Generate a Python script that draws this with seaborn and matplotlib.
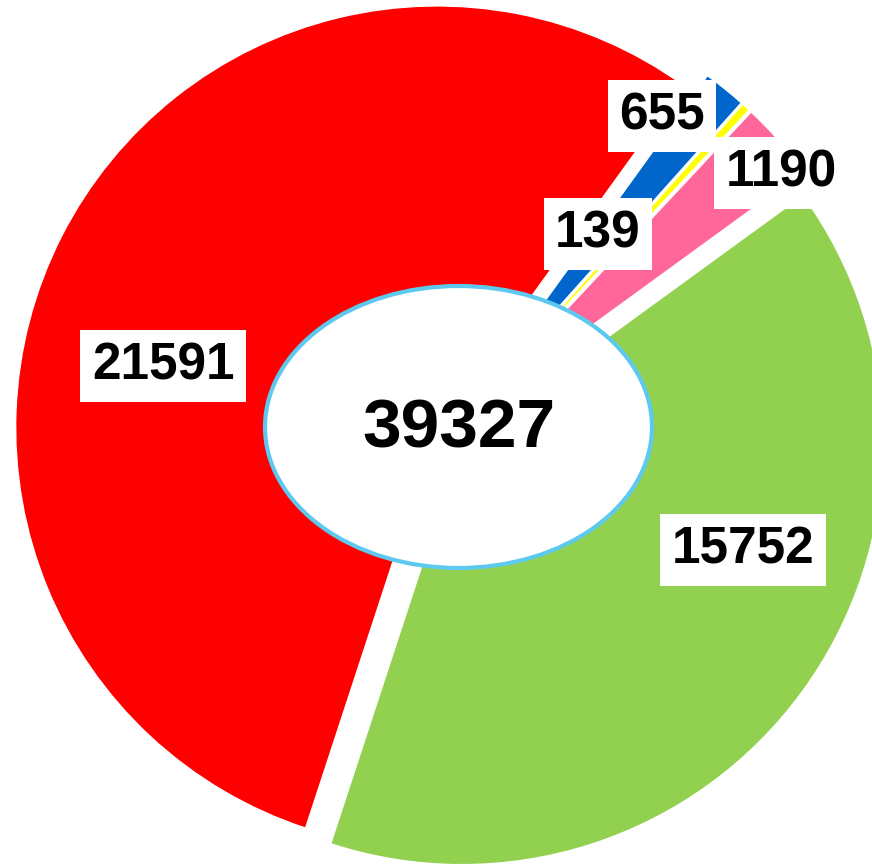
import matplotlib
matplotlib.use("Agg")
import matplotlib.pyplot as plt
import seaborn as sns
from matplotlib.patches import Ellipse

sns.set_theme(style="white")
plt.rcParams['font.family'] = ['Liberation Sans', 'DejaVu Sans']

# data (clockwise from the top right)
values = [655, 139, 1190, 15752, 21591]
colors = ['#0066CC', '#FFFF00', '#FF6699', '#92D050', '#FF0000']
# explode offsets, in pixels (axes are 1 unit = 1 px)
explode = [20, 20, 20, 17, 12]
total = sum(values)

# label placement in pixel coords (x, y from top)
label_xy = [(662, 116), (598, 234), (781, 173), (743, 550), (163, 366)]

fig = plt.figure(figsize=(8.72, 8.68), dpi=100)
ax = fig.add_axes([0, 0, 1, 1])

ax.pie(values, colors=colors, explode=explode, startangle=54.2,
       counterclock=False, radius=422, center=(448, 868 - 433),
       wedgeprops=dict(edgecolor='white', linewidth=1.5))
ax.set_xlim(0, 872)
ax.set_ylim(0, 868)
ax.set_aspect('equal')
ax.axis('off')

hole = Ellipse((458.5, 868 - 427), 387, 282, facecolor='white',
               edgecolor='#5DC9EF', linewidth=3, zorder=5)
ax.add_patch(hole)
ax.text(458.5, 868 - 430, str(total), ha='center', va='center',
        fontsize=50, fontweight='bold', color='black', zorder=6)

for v, (x, y) in zip(values, label_xy):
    ax.text(x, 868 - y, str(v), ha='center', va='center', fontsize=37,
            fontweight='bold', color='black', zorder=7,
            bbox=dict(boxstyle='square,pad=0.22', fc='white', ec='none'))

fig.savefig('out.png', dpi=100)
